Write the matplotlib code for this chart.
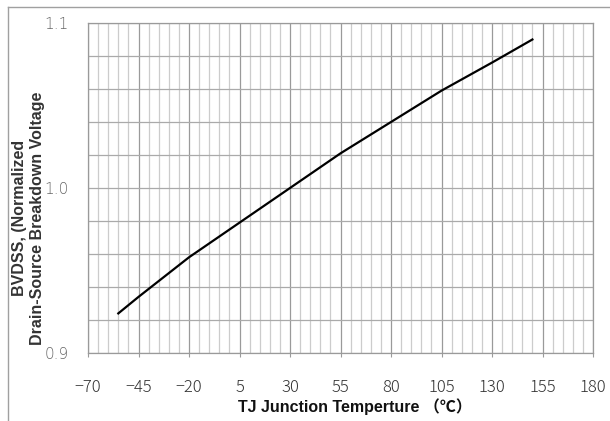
import matplotlib
matplotlib.use("Agg")
import matplotlib.pyplot as plt
from matplotlib.lines import Line2D
import numpy as np

# Data
temp_c = [-55, -45, -20, 5, 30, 55, 80, 105, 130, 150]
bvdss_norm = [0.924, 0.934, 0.958, 0.979, 1.000, 1.021, 1.040, 1.059, 1.076, 1.090]

x_ticks = [-70, -45, -20, 5, 30, 55, 80, 105, 130, 155, 180]
x_tick_labels = ["\u221270", "\u221245", "\u221220", "5", "30", "55", "80", "105", "130", "155", "180"]
y_ticks = [0.9, 1.0, 1.1]
y_tick_labels = ["0.9", "1.0", "1.1"]

fig = plt.figure(figsize=(6.10, 4.21), dpi=100)
ax = fig.add_axes([88/610, 1-353/421, (593-88)/610, (353-23)/421])

ax.set_xlim(-70, 180)
ax.set_ylim(0.9, 1.1)

# minor grid (every 5 degC) and horizontal grid (every 0.02)
for xv in np.arange(-70, 181, 5):
    major = (xv + 70) % 25 == 0
    ax.axvline(xv, color="#9a9a9a" if major else "#cccccc", lw=0.9, zorder=1)
for yv in np.arange(0.9, 1.1001, 0.02):
    ax.axhline(yv, color="#aaaaaa", lw=0.9, zorder=1)

ax.plot(temp_c, bvdss_norm, color="black", lw=1.6, zorder=3)

for s in ax.spines.values():
    s.set_color("#9a9a9a")
    s.set_linewidth(0.9)

ax.set_xticks(x_ticks)
ax.set_xticklabels(x_tick_labels, fontsize=12, color="#333333",
                   family=["Noto Sans CJK JP", "DejaVu Sans"], fontweight="light")
ax.set_yticks(y_ticks)
ax.set_yticklabels(y_tick_labels, fontsize=11, color="#666666",
                   family=["DejaVu Sans"], fontweight="light")
ax.tick_params(axis="x", length=3, color="#9a9a9a", pad=16)
ax.tick_params(axis="y", length=0, pad=14)

fig.text(355/610, 1-407/421, "TJ Junction Temperture \uff08\u2103\uff09",
         ha="center", va="center", fontsize=11.5, fontweight="bold",
         family=["Liberation Sans Narrow", "Liberation Sans", "Noto Sans CJK JP", "DejaVu Sans"],
         color="#111111")
fig.text(29/610, 1-218/421, "BVDSS, (Normalized\nDrain-Source Breakdown Voltage",
         ha="center", va="center", rotation=90, multialignment="center",
         fontsize=11.5, fontweight="bold", family=["Liberation Sans", "DejaVu Sans"],
         color="#333333", linespacing=1.25)

# outer frame lines (top and left)
fig.add_artist(Line2D([8/610, 1], [1-7/421, 1-7/421], transform=fig.transFigure,
                      color="#a0a0a0", lw=1.0))
fig.add_artist(Line2D([8/610, 8/610], [0, 1-7/421], transform=fig.transFigure,
                      color="#a0a0a0", lw=1.0))

fig.savefig("out.png", dpi=100, facecolor="white")
